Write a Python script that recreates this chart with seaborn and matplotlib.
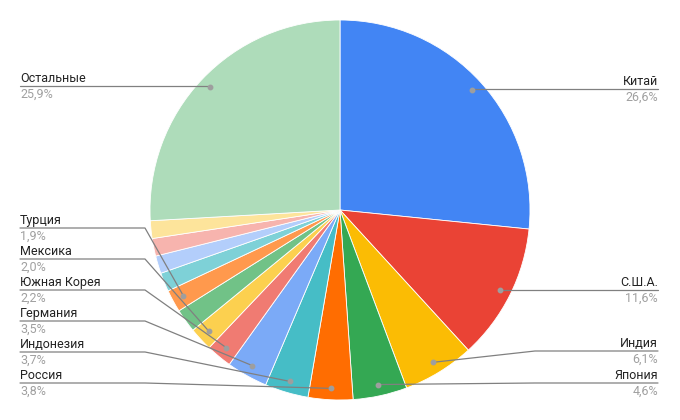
import numpy as np
import matplotlib
matplotlib.use("Agg")
import matplotlib.pyplot as plt
import seaborn as sns

# slice data, clockwise from 12 o'clock (empty name = slice without a label)
countries = ["Китай", "С.Ш.А.", "Индия", "Япония", "Россия", "Индонезия", "Германия",
             "Южная Корея", "Мексика", "", "Турция", "", "", "", "", "Остальные"]
shares = [26.6, 11.6, 6.1, 4.6, 3.8, 3.7, 3.5, 2.2, 2.0, 2.0, 1.9, 1.6, 1.5, 1.5, 1.5, 25.9]
colors = ["#4285F4", "#EA4335", "#FBBC04", "#34A853", "#FF6D01", "#46BDC6", "#7BAAF7",
          "#F07B72", "#FCD04F", "#71C287", "#FF994D", "#7ED1D7", "#B3CEFB", "#F7B4AE",
          "#FDE49B", "#AEDCBA"]

# label layout (pixel rows of the underline, side, elbow x)
label_rows = {
    "Китай": (89, "right", None), "С.Ш.А.": (290, "right", None),
    "Индия": (351, "right", 535), "Япония": (383, "right", 535),
    "Остальные": (86, "left", None), "Турция": (228, "left", 145),
    "Мексика": (259, "left", 145), "Южная Корея": (290, "left", 145),
    "Германия": (321, "left", 145), "Индонезия": (352, "left", 145),
    "Россия": (383, "left", 145),
}

sns.set_style("white")
plt.rcParams["font.family"] = ["Roboto", "DejaVu Sans"]

W, H = 680, 420
cx, cy, R = 340, 210, 190

fig = plt.figure(figsize=(6.8, 4.2), dpi=100)
ax = fig.add_axes([0, 0, 1, 1])
wedges, _ = ax.pie(shares, colors=colors, startangle=90, counterclock=False,
                   center=(cx, H - cy), radius=R,
                   wedgeprops=dict(linewidth=0.6, edgecolor="white"))
ax.set_xlim(0, W)
ax.set_ylim(0, H)
ax.set_aspect("equal")
ax.axis("off")

line_c = "#808080"
cum = np.cumsum([0] + shares[:-1])
total = sum(shares)
for name, v, c0 in zip(countries, shares, cum):
    if not name:
        continue
    theta = np.deg2rad(360 * (c0 + v / 2) / total)
    dx = cx + 0.94 * R * np.sin(theta)
    dy = (H - cy) + 0.94 * R * np.cos(theta)
    row, side, elbow = label_rows[name]
    ly = H - row
    pct = f"{v:.1f}".replace(".", ",") + "%"
    if side == "right":
        tx, ha = 658, "right"
        ex = dx if elbow is None else elbow
        ax.plot([tx, ex, dx], [ly, ly, dy], color=line_c, lw=0.9, zorder=3)
    else:
        tx, ha = 20, "left"
        ex = dx if elbow is None else elbow
        ax.plot([tx, ex, dx], [ly, ly, dy], color=line_c, lw=0.9, zorder=3)
    ax.plot(dx, dy, "o", ms=3.2, color="#9e9e9e", zorder=4)
    ax.text(tx, ly + 4, name, ha=ha, va="baseline", fontsize=9, color="#222222")
    ax.text(tx, ly - 12, pct, ha=ha, va="baseline", fontsize=9, color="#a0a0a0")

fig.savefig("out.png", dpi=100)
